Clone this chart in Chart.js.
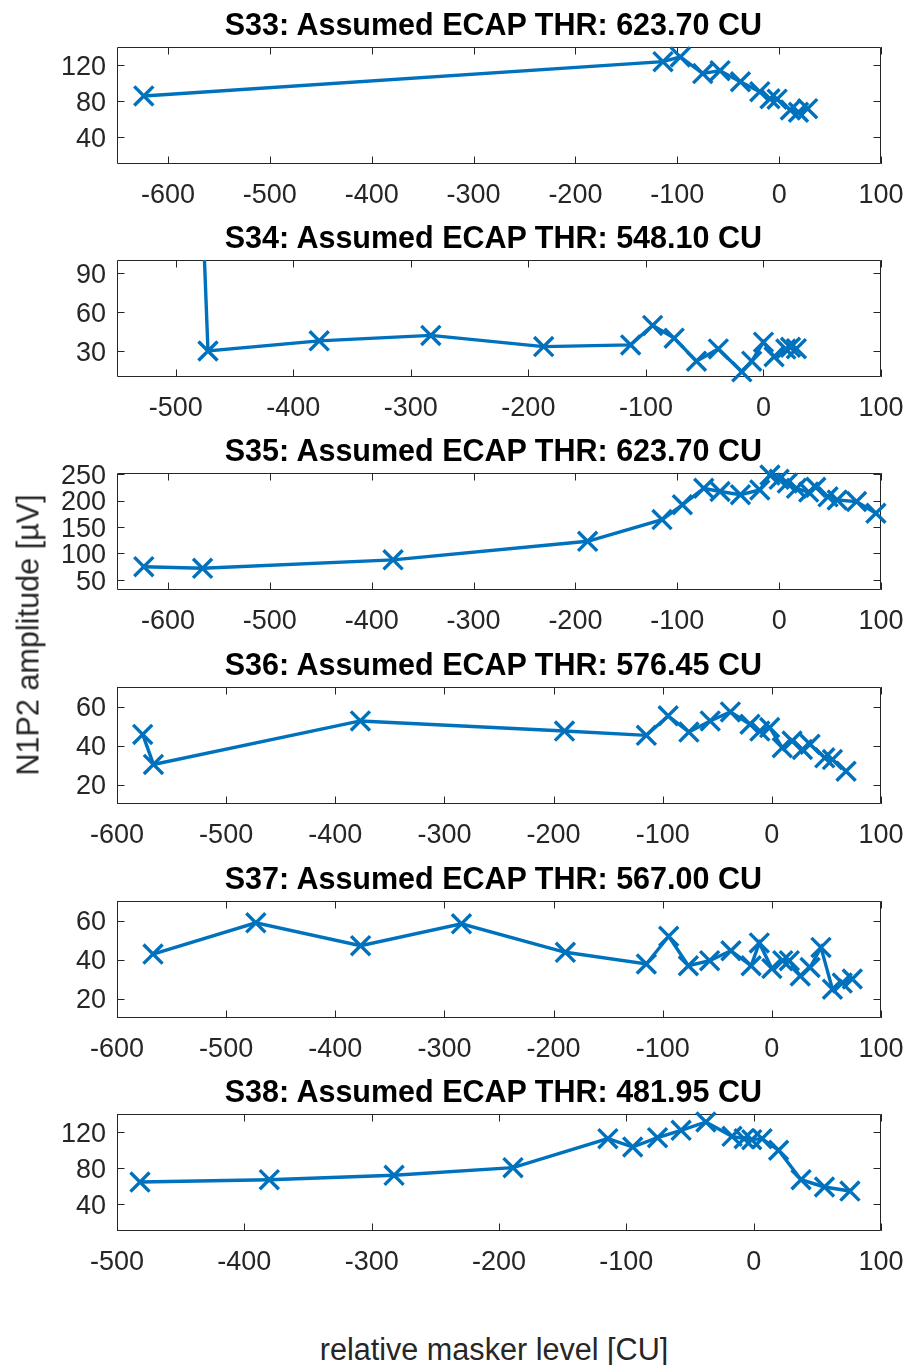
<!DOCTYPE html>
<html><head><meta charset="utf-8">
<script src="https://cdn.jsdelivr.net/npm/chart.js@4.4.1/dist/chart.umd.min.js"></script>
<style>
html,body{margin:0;padding:0;background:#fff;}
body{width:907px;height:1365px;position:relative;overflow:hidden;font-family:"Liberation Sans",Arial,Helvetica,sans-serif;}
canvas.pc{position:absolute;left:0;}
.ttl{position:absolute;left:493.3px;transform:translateX(-50%);font-size:30.5px;line-height:30.5px;font-weight:bold;color:#000;white-space:nowrap;z-index:2;}
#ylab{position:absolute;left:28px;top:635px;transform:translate(-50%,-50%) rotate(-90deg);font-size:30.6px;color:#262626;white-space:nowrap;z-index:2;}
#xlab{position:absolute;left:494px;top:1349px;transform:translate(-50%,-50%);font-size:30.6px;color:#262626;white-space:nowrap;z-index:2;}
</style></head>
<body>
<div id="ylab">N1P2 amplitude [µV]</div>
<div id="xlab">relative masker level [CU]</div>
<script>
// ---------- data ----------
const titles = [
  "S33: Assumed ECAP THR: 623.70 CU",
  "S34: Assumed ECAP THR: 548.10 CU",
  "S35: Assumed ECAP THR: 623.70 CU",
  "S36: Assumed ECAP THR: 576.45 CU",
  "S37: Assumed ECAP THR: 567.00 CU",
  "S38: Assumed ECAP THR: 481.95 CU"
];

const s33X = [-623.7, -114, -97, -75, -58, -38, -19, -9, -2, 11, 19, 28];
const s33Y = [85.6, 123.7, 129, 110.5, 113.7, 101.4, 90.4, 82.5, 82, 70, 67.5, 71.5];

const s34X = [-548.1, -472.6, -378, -283, -187, -113, -94.3, -76, -57, -38.4, -18.4, -10, 0, 9, 19, 23, 28];
const s34Y = [1800, 30, 37.8, 42, 33.4, 34.7, 49.7, 39.9, 22.2, 31.6, 14, 22.2, 36.8, 25.6, 31.5, 32.8, 31.8];

const s35X = [-623.7, -566, -379, -188, -115, -95, -74, -58, -38, -19, -9, 0, 8, 17, 29, 36, 48, 57, 76, 95];
const s35Y = [75, 72, 88, 123, 164, 192, 223, 217, 211, 220, 248, 240, 233, 223, 216, 225, 207, 201, 198, 176];

const s36X = [-576.45, -566.6, -377, -190, -115, -95, -76, -56.5, -38, -20, -11, -2, 9.5, 18.5, 28, 35, 48.5, 55.5, 68];
const s36Y = [45.7, 30.3, 52.6, 47.4, 45.2, 55.2, 46.9, 52.6, 57.2, 50.9, 47.4, 49.2, 38.9, 42.3, 38, 40.6, 33.7, 32.8, 26.8];

const s37X = [-567, -472.8, -376.8, -284.4, -189.2, -115, -94.5, -76.5, -57, -37.5, -19, -11.5, 0, 10, 16, 26, 35, 45, 55.5, 64.5, 73.7];
const s37Y = [42.8, 58.8, 47.1, 58.3, 43.7, 37.7, 51.9, 36.8, 39.4, 44.5, 36.8, 48.5, 35.4, 39.4, 39.4, 31.6, 35.9, 46.2, 24.8, 27.9, 30];

const s38X = [-481.95, -380.4, -282.4, -189, -114.5, -95, -75.5, -57, -37.5, -17, -7.5, -1.5, 6.6, 19.6, 37.2, 55.6, 75.6];
const s38Y = [64.4, 67, 71.9, 80.4, 112.6, 103.3, 113.7, 121.9, 131.1, 115.2, 112.6, 111.5, 112.6, 99.7, 67, 58.9, 54.4];

const xTicks650 = [-600, -500, -400, -300, -200, -100, 0, 100];
const xTicks550 = [-500, -400, -300, -200, -100, 0, 100];
const xTicks600 = [-600, -500, -400, -300, -200, -100, 0, 100];
const xTicks500 = [-500, -400, -300, -200, -100, 0, 100];
const yTicksA = [40, 80, 120];
const yTicksB = [30, 60, 90];
const yTicksC = [50, 100, 150, 200, 250];
const yTicksD = [20, 40, 60];

const xLimits = [[-650, 100], [-550, 100], [-650, 100], [-600, 100], [-600, 100], [-500, 100]];
const yLimits = [[10, 140], [10, 100], [31, 252], [10, 70], [10, 70], [10, 140]];

// ---------- rendering ----------
const FONT = '"Liberation Sans", Arial, Helvetica, sans-serif';
Chart.defaults.font.family = FONT;
const BLUE = '#0072BD';
const AX = '#262626';

const boxPlugin = {
  id: 'matlabBox',
  beforeDatasetsDraw(chart) {
    const {ctx, chartArea: a, scales} = chart;
    const xs = scales.x, ys = scales.y;
    const L = 7.5;
    ctx.save();
    ctx.strokeStyle = AX;
    ctx.lineWidth = 1;
    ctx.beginPath();
    ctx.rect(a.left + 0.5, a.top + 0.5, a.width - 1, a.height - 1);
    xs.ticks.forEach(t => {
      const p = Math.round(xs.getPixelForValue(t.value)) + 0.5;
      ctx.moveTo(p, a.bottom); ctx.lineTo(p, a.bottom - L);
      ctx.moveTo(p, a.top); ctx.lineTo(p, a.top + L);
    });
    ys.ticks.forEach(t => {
      const p = Math.round(ys.getPixelForValue(t.value)) + 0.5;
      ctx.moveTo(a.left, p); ctx.lineTo(a.left + L, p);
      ctx.moveTo(a.right, p); ctx.lineTo(a.right - L, p);
    });
    ctx.stroke();
    ctx.restore();
  }
};

const panels = [
  {x: s33X, y: s33Y, xt: xTicks650, yt: yTicksA},
  {x: s34X, y: s34Y, xt: xTicks550, yt: yTicksB},
  {x: s35X, y: s35Y, xt: xTicks650, yt: yTicksC},
  {x: s36X, y: s36Y, xt: xTicks600, yt: yTicksD},
  {x: s37X, y: s37Y, xt: xTicks600, yt: yTicksD},
  {x: s38X, y: s38Y, xt: xTicks500, yt: yTicksA}
];
const boxTops = [47, 260, 473, 687, 901, 1114];
const TOP_PAD = 34, BOX_H = 117, XAX_H = 50, CW = 960, BOX_L = 117, BOX_R = 881;

panels.forEach((p, i) => {
  const t = document.createElement('div');
  t.className = 'ttl';
  t.textContent = titles[i];
  t.style.top = (boxTops[i] - 38.2) + 'px';
  document.body.appendChild(t);

  const cv = document.createElement('canvas');
  cv.className = 'pc';
  cv.width = CW; cv.height = TOP_PAD + BOX_H + XAX_H;
  cv.style.width = CW + 'px'; cv.style.height = cv.height + 'px';
  cv.style.top = (boxTops[i] - TOP_PAD) + 'px';
  document.body.appendChild(cv);
  const pts = p.x.map((v, k) => ({x: v, y: p.y[k]}));
  new Chart(cv, {
    type: 'scatter',
    data: {
      datasets: [
        {data: pts, showLine: true, borderColor: BLUE, borderWidth: 3.4, pointRadius: 0, tension: 0, fill: false},
        {data: pts, showLine: false, pointStyle: 'crossRot', pointRadius: 13.5, pointBorderWidth: 3.4,
         pointBorderColor: BLUE, pointBackgroundColor: BLUE, clip: false}
      ]
    },
    options: {
      responsive: false,
      animation: false,
      events: [],
      devicePixelRatio: 1,
      layout: {padding: {left: 0, right: CW - BOX_R, top: TOP_PAD, bottom: 0}},
      plugins: {
        legend: {display: false},
        tooltip: {enabled: false},
        title: {display: false}
      },
      scales: {
        x: {
          type: 'linear', min: xLimits[i][0], max: xLimits[i][1],
          grid: {display: false, drawTicks: false}, border: {display: false},
          afterBuildTicks: s => { s.ticks = p.xt.map(v => ({value: v})); },
          afterFit: s => { s.height = XAX_H; },
          ticks: {color: AX, font: {size: 27, family: FONT}, padding: 15, maxRotation: 0, autoSkip: false,
                  callback: v => String(v)}
        },
        y: {
          type: 'linear', min: yLimits[i][0], max: yLimits[i][1],
          grid: {display: false, drawTicks: false}, border: {display: false},
          afterBuildTicks: s => { s.ticks = p.yt.map(v => ({value: v})); },
          afterFit: s => { s.width = BOX_L; },
          ticks: {color: AX, font: {size: 27, family: FONT}, padding: 11, labelOffset: 2.5, autoSkip: false,
                  callback: v => String(v)}
        }
      }
    },
    plugins: [boxPlugin]
  });
});
</script>
</body></html>
